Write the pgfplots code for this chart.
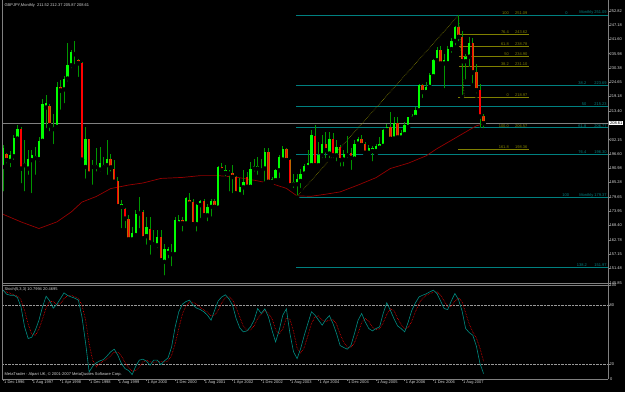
\documentclass[border=0pt]{standalone}
\usepackage{pgfplots}
\pgfplotsset{compat=1.18}
\usepackage{pgfplotstable}
\usepackage{fontspec}
\setmainfont{Liberation Sans}
\definecolor{wick}{RGB}{0,150,0}
\definecolor{bull}{RGB}{0,255,0}
\definecolor{bearedge}{RGB}{190,100,0}
\definecolor{bear}{RGB}{255,0,0}
\definecolor{fibteal}{RGB}{0,128,128}
\definecolor{fibolive}{RGB}{128,128,0}
\definecolor{maline}{RGB}{150,0,0}
\definecolor{stochmain}{RGB}{0,140,130}
\definecolor{framegrey}{RGB}{128,128,128}
\definecolor{txt}{RGB}{215,215,215}

\pgfplotstableread{
i o h l c
0 191.4 199.9 181.0 198.7
1 196.4 197.0 192.0 194.1
2 193.8 197.5 190.5 196.0
3 195.6 203.9 193.4 203.0
4 202.6 207.8 201.5 206.3
5 206.3 207.2 184.2 190.8
6 192.1 201.9 181.0 192.8
7 190.8 198.0 187.5 194.7
8 194.1 198.0 180.3 196.0
9 194.9 199.3 187.5 195.6
10 194.5 203.2 192.8 201.5
11 201.7 218.3 200.6 216.1
12 214.8 219.6 205.9 216.4
13 215.3 216.1 204.6 207.8
14 206.3 212.4 199.6 207.2
15 207.2 224.9 205.9 222.7
16 222.7 225.5 213.1 221.5
17 221.9 227.1 215.7 226.2
18 226.2 240.0 224.2 231.4
19 231.4 237.3 229.5 236.7
20 236.7 241.0 231.0 235.8
21 233.4 234.0 226.0 232.2
22 232.4 232.8 193.4 194.3
23 191.4 207.2 186.0 202.6
24 202.6 202.6 187.5 188.8
25 191.4 194.1 183.6 192.1
26 191.4 198.7 188.8 192.1
27 190.4 199.3 188.8 193.0
28 191.4 195.4 190.1 192.1
29 192.1 201.9 187.5 194.7
30 194.7 196.7 188.8 191.2
31 190.8 194.1 184.9 185.6
32 185.9 187.5 174.4 176.0
33 175.7 178.3 166.5 176.7
34 174.7 175.1 166.5 171.1
35 171.1 172.4 162.6 162.9
36 162.9 167.8 162.6 165.5
37 164.6 174.4 164.6 173.1
38 173.1 179.6 166.5 173.8
39 173.8 174.4 163.3 163.3
40 164.2 171.8 160.0 167.6
41 167.2 171.8 156.1 161.7
42 161.0 166.5 160.0 161.6
43 160.6 166.5 158.7 163.7
44 163.7 166.5 153.4 154.7
45 154.1 161.3 147.9 159.3
46 157.6 160.0 154.7 159.3
47 157.1 161.3 151.5 157.6
48 157.1 171.8 157.1 170.7
49 169.2 172.4 167.8 170.7
50 170.7 171.8 165.2 169.2
51 169.2 179.6 168.5 179.3
52 178.6 181.0 175.7 177.0
53 177.7 179.0 168.5 168.9
54 168.9 177.0 165.2 176.4
55 176.4 178.6 170.5 178.1
56 178.1 179.0 172.4 172.4
57 172.4 177.0 169.2 175.7
58 175.7 179.0 171.1 178.1
59 178.1 179.0 175.1 175.7
60 175.4 191.7 175.1 191.4
61 191.4 192.8 189.5 190.1
62 189.1 192.1 186.9 190.1
63 188.8 190.4 181.0 189.5
64 189.1 192.1 180.3 187.5
65 187.5 187.8 180.3 181.0
66 180.7 186.9 180.3 183.6
67 183.4 190.1 179.6 185.6
68 187.5 189.5 182.3 183.6
69 183.6 193.4 183.0 190.8
70 190.8 194.7 188.8 191.7
71 190.8 195.4 187.5 191.7
72 190.1 194.7 189.5 190.8
73 190.8 198.7 184.9 197.3
74 197.3 198.7 184.2 185.6
75 185.6 187.5 184.9 186.6
76 186.2 190.8 185.6 190.1
77 190.1 196.0 186.2 195.4
78 194.3 199.6 194.1 198.4
79 198.4 199.0 193.4 194.1
80 194.1 194.7 183.6 184.2
81 184.6 188.8 182.3 185.5
82 184.6 188.8 179.37 186.5
83 185.9 190.8 182.3 188.8
84 188.8 192.5 187.5 191.7
85 191.4 198.0 190.1 193.0
86 192.1 205.9 191.4 203.9
87 203.5 207.8 190.8 192.1
88 192.1 201.3 191.4 196.0
89 196.0 203.9 194.1 200.6
90 200.6 205.2 194.1 198.0
91 196.7 205.2 194.1 202.6
92 202.6 204.6 194.1 196.0
93 196.0 201.9 192.8 199.3
94 199.3 200.0 190.8 194.1
95 194.3 198.0 190.8 196.7
96 196.0 203.5 194.1 196.7
97 197.0 198.7 189.5 195.0
98 194.7 201.9 194.1 200.6
99 200.6 203.2 199.3 202.6
100 202.6 203.9 199.3 200.0
101 200.4 201.3 196.0 197.0
102 197.0 200.0 196.0 198.7
103 197.7 199.6 192.8 198.7
104 197.7 200.6 196.7 199.6
105 199.0 203.2 198.7 200.4
106 199.7 206.5 199.3 206.1
107 205.9 208.2 205.2 207.2
108 207.2 213.1 202.0 202.5
109 202.6 211.1 201.3 208.8
110 208.8 211.1 202.0 203.0
111 203.0 205.9 202.6 204.6
112 204.3 209.1 203.9 207.8
113 207.2 211.1 206.5 210.9
114 210.5 212.4 209.8 211.4
115 211.1 215.0 211.1 214.0
116 213.7 224.0 213.1 223.6
117 223.6 224.2 217.7 220.9
118 220.9 224.9 220.3 222.9
119 222.9 228.4 221.6 227.5
120 227.1 234.0 226.5 233.4
121 233.4 238.5 232.0 237.3
122 237.3 239.1 231.4 232.1
123 232.1 236.0 221.6 233.4
124 232.2 238.8 231.0 237.8
125 237.8 242.0 235.5 241.0
126 241.0 247.0 238.5 246.6
127 246.6 251.09 240.0 242.6
128 242.6 245.0 218.97 233.0
129 233.0 236.0 225.0 234.5
130 234.8 242.5 230.0 240.0
131 240.0 242.0 223.5 228.6
132 228.6 232.0 219.5 221.6
133 221.6 224.0 206.0 211.3
134 211.52 212.37 205.87 208.61
}\candles

\pgfplotstableread{
i p
0 172.8
5 169.8
10 167.2
15 169.8
19 173.7
22 177.6
26 179.8
30 182.9
35 184.3
39 185.1
44 186.9
50 187.3
55 188.0
60 188.0
65 187.4
70 186.2
75 184.8
79 183.0
82 180.0
86 179.9
90 180.7
94 181.6
99 184.3
104 187.2
108 190.8
113 192.9
118 195.8
121 198.6
126 202.7
130 206.0
132 207.6
134 208.4
}\ma

\pgfplotstableread{
i m s
0 95.2 95.2
1 91.1 93.2
2 90.1 92.1
3 90.1 90.4
4 87.8 89.3
5 78.3 85.4
6 58.1 74.7
7 46.3 60.9
8 47.6 50.7
9 54.7 49.5
10 64.8 55.7
11 78.3 65.9
12 89.1 77.4
13 84.4 83.9
14 77.0 83.5
15 81.0 80.8
16 86.7 81.6
17 92.5 86.7
18 89.8 89.7
19 88.4 90.2
20 87.1 88.4
21 85.1 86.9
22 68.2 80.1
23 42.2 65.2
24 12.5 41.0
25 18.3 24.3
26 21.7 17.5
27 23.7 21.2
28 25.0 23.5
29 28.7 25.8
30 32.8 28.8
31 35.5 32.3
32 29.4 32.6
33 21.0 28.6
34 15.9 22.1
35 13.9 16.9
36 9.8 13.2
37 18.3 14.0
38 24.4 17.5
39 25.4 22.7
40 23.3 24.4
41 19.3 22.7
42 24.4 22.3
43 24.4 22.7
44 20.0 22.9
45 23.7 22.7
46 26.7 23.5
47 37.8 29.4
48 58.1 40.9
49 73.3 56.4
50 81.0 70.8
51 83.7 79.3
52 85.1 83.3
53 80.0 82.9
54 77.0 80.7
55 75.6 77.5
56 73.3 75.3
57 69.9 72.9
58 64.8 69.3
59 74.9 69.9
60 84.4 74.7
61 88.4 82.6
62 90.5 87.8
63 86.4 88.4
64 80.0 85.6
65 66.5 77.6
66 57.1 67.9
67 53.0 58.9
68 54.0 54.7
69 58.1 55.0
70 64.8 59.0
71 76.6 66.5
72 71.6 71.0
73 76.3 74.8
74 68.2 72.0
75 54.7 66.4
76 42.9 55.3
77 54.7 50.8
78 69.9 55.8
79 76.3 67.0
80 51.3 65.8
81 32.8 53.5
82 26.0 36.7
83 36.2 31.7
84 49.6 37.3
85 61.5 49.1
86 73.3 61.5
87 69.9 68.2
88 64.8 69.3
89 59.8 64.8
90 65.5 63.4
91 69.5 64.9
92 61.5 65.5
93 51.3 60.8
94 39.2 50.7
95 37.2 42.6
96 35.5 37.3
97 39.2 37.3
98 51.3 42.0
99 64.8 51.8
100 71.6 62.6
101 63.1 66.5
102 56.4 63.7
103 54.0 57.8
104 56.4 55.6
105 58.1 56.2
106 71.6 62.0
107 82.4 70.7
108 74.9 76.3
109 66.5 74.6
110 59.1 66.8
111 56.4 60.7
112 53.0 56.2
113 63.1 57.5
114 74.9 63.7
115 82.4 73.5
116 88.4 81.9
117 90.1 87.0
118 91.5 90.0
119 93.5 91.7
120 95.2 93.4
121 91.8 93.5
122 84.4 90.5
123 76.6 84.3
124 75.6 78.9
125 84.4 78.9
126 91.8 83.9
127 85.7 87.3
128 74.3 83.9
129 56.4 72.1
130 52.3 61.0
131 49.6 52.8
132 38.5 46.8
133 21.0 36.4
134 10.8 23.4
}\stoch

\tikzset{lbl/.style={font=\fontsize{4}{4.5}\selectfont, inner sep=0.4pt}}

\begin{document}
\begin{tikzpicture}[x=1pt,y=1pt]
\fill[black] (0,0) rectangle (625,392);
% main price panel
\begin{axis}[
  at={(2pt,109pt)}, anchor=south west,
  scale only axis, width=606pt, height=281pt,
  xmin=-0.3, xmax=168.7, ymin=145.67, ymax=256.21,
  axis line style={draw=none},
  xtick=\empty,
  ytick={145.85,151.48,157.15,162.78,168.40,173.95,179.65,185.28,190.98,196.60,202.15,213.40,219.18,224.65,230.38,235.98,241.60,247.18,252.82},
  yticklabels={145.85,151.48,157.15,162.78,168.40,173.95,179.65,185.28,190.98,196.60,202.15,213.40,219.18,224.65,230.38,235.98,241.60,247.18,252.82},
  ytick pos=right, yticklabel pos=right,
  tick align=outside, major tick length=2pt,
  tick style={framegrey, line width=0.4pt},
  yticklabel style={lbl, text=txt, xshift=-1pt},
  clip mode=individual,
]
% current price line
\addplot[framegrey, line width=0.5pt] coordinates {(-0.3,208.61) (168.7,208.61)};
% fibonacci (teal) levels
\addplot[fibteal, line width=1.1pt] coordinates {(81.7,251.09) (168.7,251.09)};
\addplot[fibteal, line width=0.6pt] coordinates {(81.7,223.69) (168.7,223.69)};
\addplot[fibteal, line width=0.6pt] coordinates {(81.7,215.23) (168.7,215.23)};
\addplot[fibteal, line width=0.9pt] coordinates {(81.7,206.77) (168.7,206.77)};
\addplot[fibteal, line width=0.6pt] coordinates {(81.7,196.30) (168.7,196.30)};
\addplot[fibteal, line width=1.1pt] coordinates {(81.7,179.37) (168.7,179.37)};
\addplot[fibteal, line width=0.6pt] coordinates {(81.7,151.97) (168.7,151.97)};
% fibonacci (olive) levels
\addplot[fibolive, line width=0.6pt] coordinates {(127.2,243.62) (146.7,243.62)};
\addplot[fibolive, line width=0.6pt] coordinates {(127.2,238.78) (146.7,238.78)};
\addplot[fibolive, line width=0.6pt] coordinates {(127.2,234.90) (146.7,234.90)};
\addplot[fibolive, line width=0.6pt] coordinates {(127.2,231.10) (146.7,231.10)};
\addplot[fibolive, line width=0.6pt] coordinates {(126.9,218.97) (146.7,218.97)};
\addplot[fibolive, line width=0.6pt] coordinates {(126.9,198.36) (146.7,198.36)};
% trend lines
\addplot[fibolive, densely dotted, line width=0.6pt] coordinates {(81.7,179.37) (127,251.09)};
\addplot[fibolive, densely dotted, line width=0.6pt] coordinates {(127,251.09) (128.6,218.97)};
% moving average
\addplot[maline, line width=0.7pt] table[x=i, y=p] {\ma};
% wicks
\addplot[only marks, mark=none, error bars/.cd, y dir=plus, y explicit, error mark=none,
  error bar style={line width=0.7pt, wick}]
  table[x=i, y=l, y error plus expr=\thisrow{h}-\thisrow{l}] {\candles};
% bull bodies
\addplot[only marks, mark=none, restrict expr to domain={\thisrow{c}-\thisrow{o}}{0:1000},
  error bars/.cd, y dir=plus, y explicit, error mark=none,
  error bar style={line width=2.4pt, bull}]
  table[x=i, y=o, y error plus expr=\thisrow{c}-\thisrow{o}] {\candles};
% bear bodies
\addplot[only marks, mark=none, restrict expr to domain={\thisrow{c}-\thisrow{o}}{-1000:-0.001},
  error bars/.cd, y dir=plus, y explicit, error mark=none,
  error bar style={line width=2.4pt, bearedge}]
  table[x=i, y=c, y error plus expr=\thisrow{o}-\thisrow{c}] {\candles};
\addplot[only marks, mark=none, restrict expr to domain={\thisrow{c}-\thisrow{o}}{-1000:-0.001},
  error bars/.cd, y dir=plus, y explicit, error mark=none,
  error bar style={line width=1.1pt, bear}]
  table[x=i, y=c, y error plus expr=\thisrow{o}-\thisrow{c}] {\candles};
% labels
\node[lbl, text=fibteal, anchor=south east] at (axis cs:168.5,251.09) {Monthly 251.09};
\node[lbl, text=fibteal, anchor=south east] at (axis cs:157.6,251.09) {0};
\node[lbl, text=fibteal, anchor=south east] at (axis cs:168.5,223.69) {223.69};
\node[lbl, text=fibteal, anchor=south east] at (axis cs:162.8,223.69) {38.2};
\node[lbl, text=fibteal, anchor=south east] at (axis cs:168.5,215.23) {215.23};
\node[lbl, text=fibteal, anchor=south east] at (axis cs:162.8,215.23) {50};
\node[lbl, text=fibteal, anchor=south east] at (axis cs:168.5,206.77) {206.77};
\node[lbl, text=fibteal, anchor=south east] at (axis cs:162.8,206.77) {61.8};
\node[lbl, text=fibteal, anchor=south east] at (axis cs:168.5,196.30) {196.30};
\node[lbl, text=fibteal, anchor=south east] at (axis cs:162.8,196.30) {76.4};
\node[lbl, text=fibteal, anchor=south east] at (axis cs:168.5,179.37) {Monthly 179.37};
\node[lbl, text=fibteal, anchor=south east] at (axis cs:158.0,179.37) {100};
\node[lbl, text=fibteal, anchor=south east] at (axis cs:168.5,151.97) {151.97};
\node[lbl, text=fibteal, anchor=south east] at (axis cs:163.0,151.97) {138.2};
\node[lbl, text=fibolive, anchor=south east] at (axis cs:146.4,251.09) {251.09};
\node[lbl, text=fibolive, anchor=south east] at (axis cs:141.2,251.09) {100};
\node[lbl, text=fibolive, anchor=south east] at (axis cs:146.4,243.62) {243.62};
\node[lbl, text=fibolive, anchor=south east] at (axis cs:141.2,243.62) {76.4};
\node[lbl, text=fibolive, anchor=south east] at (axis cs:146.4,238.78) {238.78};
\node[lbl, text=fibolive, anchor=south east] at (axis cs:141.2,238.78) {61.8};
\node[lbl, text=fibolive, anchor=south east] at (axis cs:146.4,234.90) {234.90};
\node[lbl, text=fibolive, anchor=south east] at (axis cs:141.2,234.90) {50};
\node[lbl, text=fibolive, anchor=south east] at (axis cs:146.4,231.10) {231.10};
\node[lbl, text=fibolive, anchor=south east] at (axis cs:141.2,231.10) {38.2};
\node[lbl, text=fibolive, anchor=south east] at (axis cs:146.4,218.97) {218.97};
\node[lbl, text=fibolive, anchor=south east] at (axis cs:141.2,218.97) {0};
\node[lbl, text=fibolive, anchor=south east] at (axis cs:146.4,206.57) {206.57};
\node[lbl, text=fibolive, anchor=south east] at (axis cs:141.2,206.57) {100.0};
\node[lbl, text=fibolive, anchor=south east] at (axis cs:146.4,198.36) {198.36};
\node[lbl, text=fibolive, anchor=south east] at (axis cs:141.2,198.36) {161.8};
\node[lbl, fill=white, text=black, anchor=west, inner sep=0.8pt] at (axis cs:169.0,208.61) {208.61};
\end{axis}
% stochastic panel
\begin{axis}[
  at={(2pt,13pt)}, anchor=south west,
  scale only axis, width=606pt, height=94pt,
  xmin=-0.3, xmax=168.7, ymin=5.1, ymax=100.2,
  axis line style={draw=none},
  xtick={0,8,...,128},
  xticklabels={1 Dec 1996,1 Aug 1997,1 Apr 1998,1 Dec 1998,1 Aug 1999,1 Apr 2000,1 Dec 2000,1 Aug 2001,1 Apr 2002,1 Dec 2002,1 Aug 2003,1 Apr 2004,1 Dec 2004,1 Aug 2005,1 Apr 2006,1 Dec 2006,1 Aug 2007},
  xtick pos=bottom, xticklabel pos=bottom,
  ytick={20,80,100}, ytick pos=right, yticklabel pos=right,
  tick align=outside, major tick length=2pt,
  tick style={framegrey, line width=0.4pt},
  yticklabel style={lbl, text=txt, xshift=-1pt},
  xticklabel style={lbl, text=txt, anchor=north west, xshift=0.5pt, yshift=1.2pt},
  /pgf/number format/assume math mode=true,
  clip mode=individual,
]
\addplot[gray!80, densely dotted, line width=0.4pt] coordinates {(-0.3,80) (168.7,80)};
\addplot[gray!80, densely dotted, line width=0.4pt] coordinates {(-0.3,20) (168.7,20)};
\addplot[red, densely dotted, line width=0.6pt] table[x=i, y=s] {\stoch};
\addplot[stochmain, line width=0.6pt] table[x=i, y=m] {\stoch};
\node[lbl, text=txt, anchor=west] at (axis cs:169.1,5.1) {0};
\end{axis}
% frame
\draw[framegrey, line width=0.5pt] (2,13) -- (2,392);
\draw[framegrey, line width=0.5pt] (608,13) -- (608,392);
\draw[framegrey, line width=0.5pt] (2,109) -- (608,109);
\draw[framegrey, line width=0.5pt] (2,107) -- (608,107);
\draw[framegrey, line width=0.5pt] (2,13) -- (608,13);
% texts
\node[lbl, text=txt, anchor=west] at (4,387) {GBPJPY,Monthly\ \ 211.52 212.37 205.87 208.61};
\node[lbl, text=txt, anchor=west] at (4,103) {Stoch(5,3,3) 10.7994 20.4695};
\node[lbl, text=txt, anchor=west] at (4,18) {MetaTrader - Alpari UK, © 2001-2007 MetaQuotes Software Corp.};
\end{tikzpicture}
\end{document}
